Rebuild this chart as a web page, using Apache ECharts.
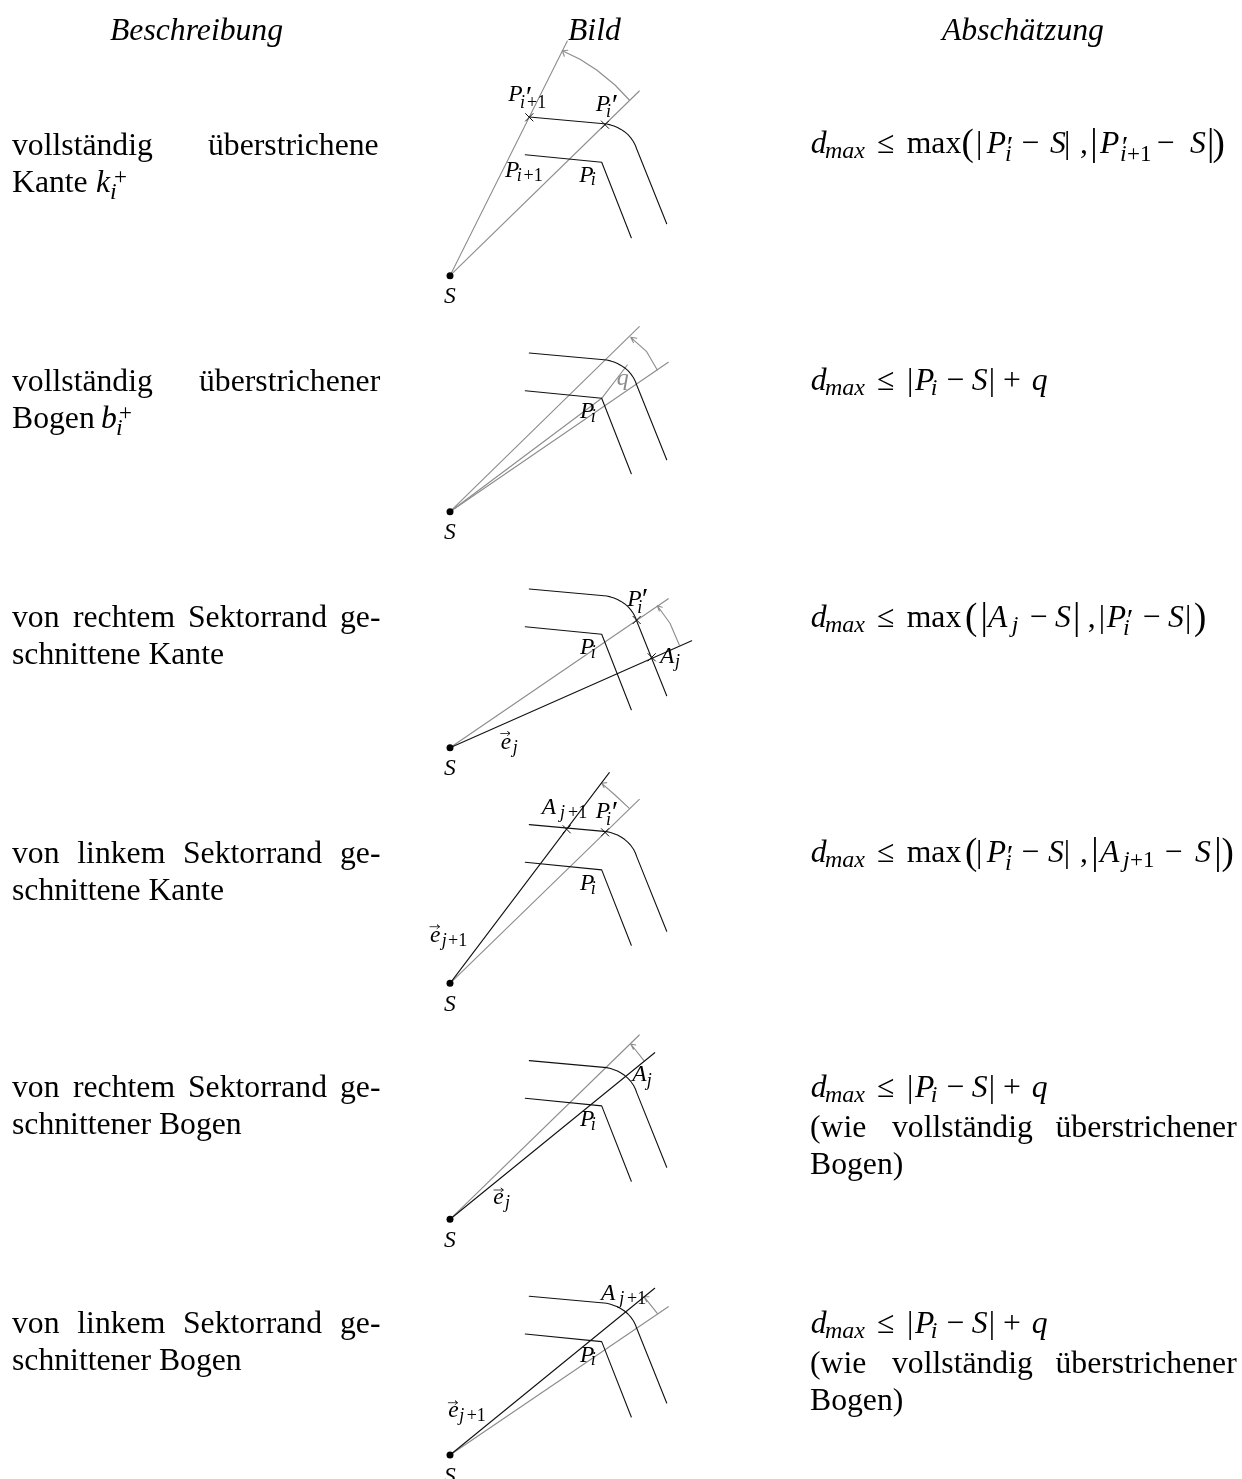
<!DOCTYPE html>
<html>
<head>
<meta charset="utf-8">
<title>Abschätzung</title>
<script src="https://cdn.jsdelivr.net/npm/echarts@6/dist/echarts.min.js"></script>
<style>
  html,body{margin:0;padding:0;background:#fff;overflow:hidden;}
  #page{width:1242px;height:1479px;overflow:hidden;}
  /* 21px taller than the page so the last S is cut by the page edge */
  #main{width:1242px;height:1500px;}
</style>
</head>
<body>
<div id="page"><div id="main"></div></div>
<script type="text/javascript">
// apex S of each of the six sketches
var apexes = [[450,275.7],[450,511.7],[450,747.7],[450,983.3],[450,1219.3],[450,1455]];

// the two offset curves, read relative to S (same in all sketches)
var innerEdge = [[75.3,-121],[151.7,-113.4],[181.3,-38]];
var outerEdge = [[79.3,-158.7],[156.7,-151.7],[160.5,-150.8],[164,-149.6],[167.5,-148.2],[171,-146.3],[174.5,-144],[178,-141],[181,-137.6],[183.5,-134],[185.5,-130],[186.7,-126.7],[216.7,-52]];

// grey rays, black rays, sweep arcs with arrow head, crosses - one list per sketch, relative to S
var greyRays = [
  [[[0,0],[117.3,-234.7]],[[0,0],[189.3,-184.7]]],
  [[[0,0],[189.3,-185]],[[0,0],[218.3,-149.4]],[[0,0],[151.7,-113.4],[177.3,-146.7]]],
  [[[0,0],[218.3,-149]]],
  [[[0,0],[189.3,-184]]],
  [[[0,0],[189.3,-184.3]]],
  [[[0,0],[218.3,-148.3]]]
];
var blackRays = [
  [],
  [],
  [[[0,0],[241.7,-107]]],
  [[[0,0],[159.3,-210.6]]],
  [[[0,0],[204.7,-166.6]]],
  [[[0,0],[204.7,-166.7]]]
];
var sweepArcs = [
  [[117.8,-225.5],[112.3,-225],[114.3,-219.5],[112.3,-225],[130,-216.4],[146.7,-205.7],[165,-190.7],[179.3,-175.7]],
  [[186.7,-173.4],[180.7,-174.4],[183.4,-169.1],[180.7,-174.4],[196.7,-160],[207.3,-141.7]],
  [[212.3,-140.5],[207.3,-142],[209.3,-136.7],[207.3,-142],[220,-124.4],[229.3,-102.7]],
  [[156.7,-200.7],[151.7,-200],[154,-195.7],[151.7,-200],[165,-188.3],[179.3,-175]],
  [[185.7,-174.3],[180.7,-175.3],[183.4,-170],[180.7,-175.3],[194,-158.6]],
  [[199,-158.3],[194,-158.3],[196.7,-153.3],[194,-158.3],[207.3,-141.7]]
];
var crosses = [
  [[79.3,-158.4],[155,-151]],
  [],
  [[186.7,-127.7],[201.7,-90.4]],
  [[116.7,-154],[155,-151]],
  [],
  []
];
// little arrows over the e vectors
var vectorMarks = [
  [[500.7,733.5],[510,733.5],[507.5,731.5],[510,733.5],[507.5,735.5]],
  [[430,926.7],[439.5,926.7],[437,924.7],[439.5,926.7],[437,928.7]],
  [[494,1190],[503.3,1190],[500.8,1188],[503.3,1190],[500.8,1192]],
  [[448.3,1402.7],[457.5,1402.7],[455,1400.7],[457.5,1402.7],[455,1404.7]]
];

// text pieces: x, baseline y, string
var bodyRoman = [
  [12,155,'vollständig'],[208,155,'überstrichene'],[12,192,'Kante'],
  [12,391,'vollständig'],[199,391,'überstrichener'],[12,428,'Bogen'],
  [12,627,'von'],[73,627,'rechtem'],[188,627,'Sektorrand'],[340,627,'ge-'],[12,664,'schnittene Kante'],
  [12,863,'von'],[77.3,863,'linkem'],[183,863,'Sektorrand'],[340,863,'ge-'],[12,900,'schnittene Kante'],
  [12,1097,'von'],[73,1097,'rechtem'],[188,1097,'Sektorrand'],[340,1097,'ge-'],[12,1134,'schnittener Bogen'],
  [12,1333,'von'],[77.3,1333,'linkem'],[183,1333,'Sektorrand'],[340,1333,'ge-'],[12,1370,'schnittener Bogen'],
  [810,1137,'(wie'],[892,1137,'vollständig'],[1055.5,1137,'überstrichener'],[810,1174,'Bogen)'],
  [810,1373,'(wie'],[892,1373,'vollständig'],[1055.5,1373,'überstrichener'],[810,1410,'Bogen)'],
  // row 1 formula
  [877,153,'≤'],[906.7,153,'max'],[976,153,'|'],[1021.7,153,'−'],[1064,153,'|'],[1080,153,','],[1157,153,'−'],
  // row 2
  [877,390,'≤'],[907,390,'|'],[946.7,390,'−'],[988.7,390,'|'],[1003,390,'+'],
  // row 3
  [877,627,'≤'],[906.7,627,'max'],[1030,627,'−'],[1087.7,627,','],[1098.7,627,'|'],[1143,627,'−'],[1185,627,'|'],
  // row 4
  [877,862,'≤'],[906.7,862,'max'],[976,862,'|'],[1021.7,862,'−'],[1063.7,862,'|'],[1080,862,','],[1165,862,'−'],
  // row 5, 6
  [877,1097,'≤'],[907,1097,'|'],[946.7,1097,'−'],[988.7,1097,'|'],[1003,1097,'+'],
  [877,1333,'≤'],[907,1333,'|'],[946.7,1333,'−'],[988.7,1333,'|'],[1003,1333,'+']
];
var bodyItalic = [
  [110,40,'Beschreibung'],[568,40,'Bild'],[942,40,'Abschätzung'],
  [96,192,'k'],[101,428,'b'],
  [810.7,153,'d'],[986.7,153,'P'],[1050,153,'S'],[1100,153,'P'],[1190,153,'S'],
  [810.7,390,'d'],[915,390,'P'],[971.7,390,'S'],[1031.7,390,'q'],
  [810.7,627,'d'],[988,627,'A'],[1055,627,'S'],[1106.7,627,'P'],[1168,627,'S'],
  [810.7,862,'d'],[986.7,862,'P'],[1048,862,'S'],[1100,862,'A'],[1195,862,'S'],
  [810.7,1097,'d'],[915,1097,'P'],[971.7,1097,'S'],[1031.7,1097,'q'],
  [810.7,1333,'d'],[915,1333,'P'],[971.7,1333,'S'],[1031.7,1333,'q']
];
// indices and subscripts of the formulas
var formulaSubs = [
  [110,199,'i'],[116,435,'i'],
  [825,158,'max'],[1005,161,'i'],[1120,161,'i'],
  [825,395,'max'],[930.7,395,'i'],
  [825,632,'max'],[1011.7,632,'j'],[1123,635,'i'],
  [825,867,'max'],[1005,870,'i'],[1123,867,'j'],
  [825,1102,'max'],[930.7,1102,'i'],
  [825,1338,'max'],[930.7,1338,'i']
];
var formulaSubsRoman = [
  [114,184,'+'],[119,420,'+'],
  [1127,161,'+1'],[1130,867,'+1']
];
// letters inside the sketches
var sketchLetters = [
  [508.3,100.7,'P'],[595.7,111,'P'],[505,176.7,'P'],[579.3,181.7,'P'],[444,303.3,'S'],
  [580,417.7,'P'],[444,539.3,'S'],
  [627.3,605.7,'P'],[660,662.7,'A'],[580,654.3,'P'],[500.7,749,'e'],[444,775.3,'S'],
  [541.7,814,'A'],[595.7,817.7,'P'],[580,890,'P'],[430,941.7,'e'],[444,1011,'S'],
  [632.3,1081,'A'],[580,1126,'P'],[493.3,1204.3,'e'],[444,1247,'S'],
  [601,1300,'A'],[580,1361.7,'P'],[448.3,1416.7,'e'],[444,1482.6,'S']
];
var sketchSubs = [
  [520,108,'i'],[606,117,'i'],[516.7,180.7,'i'],[590.7,185,'i'],
  [590.7,421.7,'i'],
  [637.3,612.7,'i'],[675,666.7,'j'],[590.7,658,'i'],[512.7,752.7,'j'],
  [560,818,'j'],[606,825,'i'],[590.7,893.7,'i'],[441.7,946,'j'],
  [646.7,1085.7,'j'],[590.7,1129.7,'i'],[505,1208,'j'],
  [619.3,1304,'j'],[590.7,1365.4,'i'],[459.3,1421,'j']
];
var sketchSubsRoman = [
  [527,108,'+1'],[523.5,180.7,'+1'],[568,818,'+1'],[448,946,'+1'],[627,1304,'+1'],[466.7,1421,'+1']
];
var primes = [
  // formulas
  [1005,156,'′'],[1120,156,'′'],[1125,629,'′'],[1005,864.5,'′'],
  // sketches
  [524,106,'′'],[610,114,'′'],[640,608,'′'],[610,821,'′']
];
var tallRoman = [
  [961.5,155,'('],[1090.3,155,'|'],[1207,155,'|'],[1212.5,155,')'],
  [965,629,'('],[980.6,629,'|'],[1073,629,'|'],[1194,629,')'],
  [965,864,'('],[1091.3,864,'|'],[1214.3,864,'|'],[1221.5,864,')']
];
var greyLetters = [[616.7,385,'q']];

var BLACK = '#111', GREY = '#8c8c8c';

function shift(pts, o){
  var out = [];
  for(var i=0;i<pts.length;i++){
    out.push([pts[i][0]+o[0], pts[i][1]+o[1]]);
  }
  return out;
}
function lineSeries(pts, color, width){
  return {type:'line', data:pts, showSymbol:false, silent:true, animation:false, z:2,
          lineStyle:{color:color, width:width, cap:'round', join:'round'}};
}
function textSeries(rows, size, style, color){
  return {type:'scatter', data:rows, symbolSize:1, silent:true, animation:false, z:5,
          itemStyle:{color:'rgba(0,0,0,0)', opacity:1},
          label:{show:true, position:'inside', align:'left', verticalAlign:'middle',
                 offset:[0,-0.26*size], color:color||'#000', fontFamily:'"Liberation Serif"',
                 fontSize:size, fontStyle:style,
                 formatter:function(p){return p.data[2];}}};
}

var series = [];
for(var k=0;k<apexes.length;k++){
  var o = apexes[k];
  for(var a=0;a<greyRays[k].length;a++){ series.push(lineSeries(shift(greyRays[k][a],o),GREY,1.1)); }
  series.push(lineSeries(shift(sweepArcs[k],o),GREY,1.1));
  series.push(lineSeries(shift(innerEdge,o),BLACK,1.1));
  series.push(lineSeries(shift(outerEdge,o),BLACK,1.1));
  for(var b=0;b<blackRays[k].length;b++){ series.push(lineSeries(shift(blackRays[k][b],o),BLACK,1.1)); }
  // crosses on the edge
  series.push({type:'scatter', data:shift(crosses[k],o), silent:true, animation:false, z:3,
    symbol:'path://M0 0L10 10M10 0L0 10', symbolSize:8,
    itemStyle:{color:'none', borderColor:BLACK, borderWidth:1, opacity:1}});
}
for(var v=0;v<vectorMarks.length;v++){ series.push(lineSeries(vectorMarks[v],BLACK,0.8)); }
// the points S
series.push({type:'scatter', data:apexes, symbol:'circle', symbolSize:7, silent:true, animation:false, z:4,
  itemStyle:{color:'#000', opacity:1}});

series.push(textSeries(bodyRoman,31.7,'normal'));
series.push(textSeries(bodyItalic,31.7,'italic'));
series.push(textSeries(formulaSubs,24,'italic'));
series.push(textSeries(formulaSubsRoman,23,'normal'));
series.push(textSeries(sketchLetters,23.5,'italic'));
series.push(textSeries(sketchSubs,18,'italic'));
series.push(textSeries(sketchSubsRoman,18,'normal'));
series.push(textSeries(primes,30,'italic'));
series.push(textSeries(tallRoman,37,'normal'));
series.push(textSeries(greyLetters,24,'italic',GREY));

var myChart = echarts.init(document.getElementById('main'));
var option = {
  backgroundColor:'#fff',
  animation:false,
  tooltip:{show:false},
  legend:{show:false},
  grid:{left:0,right:0,top:0,bottom:0},
  xAxis:{type:'value',min:0,max:1242,show:false},
  yAxis:{type:'value',min:0,max:1500,inverse:true,show:false},
  series:series
};
myChart.setOption(option);
</script>
</body>
</html>
